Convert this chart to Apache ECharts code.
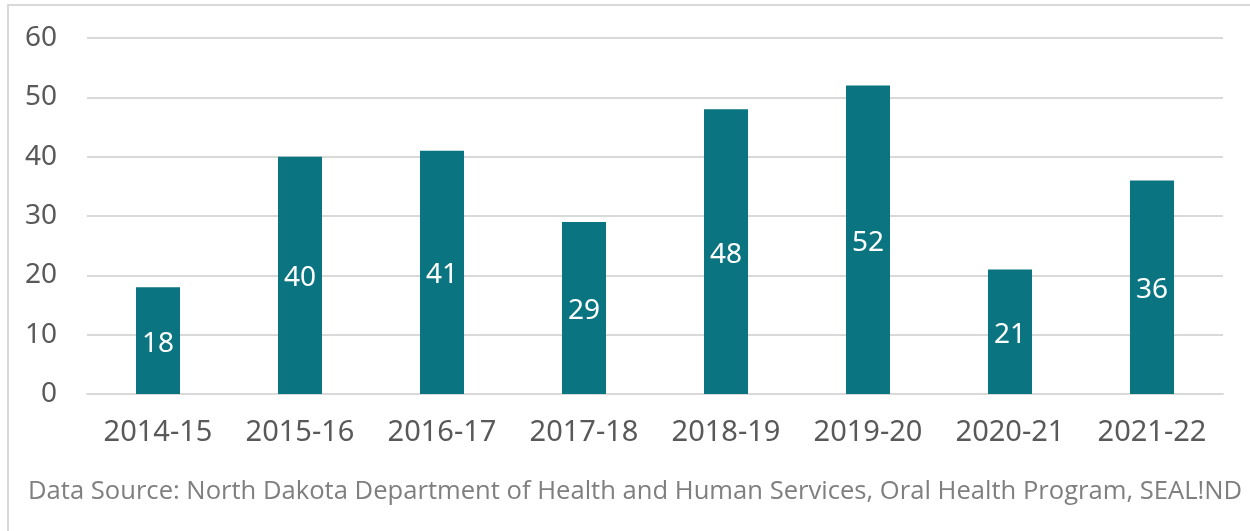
<!DOCTYPE html>
<html>
<head>
<meta charset="utf-8">
<script src="https://cdn.jsdelivr.net/npm/echarts@6/dist/echarts.min.js"></script>
<style>
  html, body { margin: 0; padding: 0; background: #fff; }
  #chart { width: 1250px; height: 531px; }
</style>
</head>
<body>
<div id="chart"></div>
<script>
var years = ['2014-15', '2015-16', '2016-17', '2017-18', '2018-19', '2019-20', '2020-21', '2021-22'];
var nums = [18, 40, 41, 29, 48, 52, 21, 36];
var yTicks = [0, 10, 20, 30, 40, 50, 60];

var myChart = echarts.init(document.getElementById('chart'));
var option = {
    animation: false,
    grid: { left: 87, right: 27, top: 38, bottom: 137 },
    xAxis: {
        type: 'category',
        data: years,
        axisTick: { show: false },
        axisLine: { lineStyle: { color: '#d9d9d9', width: 2 } },
        axisLabel: { color: '#595959', fontSize: 29, fontFamily: 'Noto Sans', margin: 24 }
    },
    yAxis: {
        type: 'value',
        min: yTicks[0],
        max: yTicks[yTicks.length - 1],
        interval: 10,
        axisLine: { show: false },
        axisTick: { show: false },
        splitLine: { lineStyle: { color: '#d9d9d9', width: 2 } },
        axisLabel: { color: '#595959', fontSize: 28, fontFamily: 'Noto Sans', margin: 30 }
    },
    series: [{
        type: 'bar',
        data: nums,
        barWidth: '31%',
        itemStyle: { color: '#0a7480' },
        label: {
            show: true,
            position: 'inside',
            offset: [0, 3],
            color: '#fff',
            fontSize: 28,
            fontFamily: 'Noto Sans'
        }
    }],
    graphic: [
        {
            type: 'rect',
            shape: { x: 8, y: 5, width: 1400, height: 700 },
            style: { fill: 'none', stroke: '#d9d9d9', lineWidth: 2 },
            silent: true
        },
        {
            type: 'text',
            left: 28,
            top: 479,
            style: {
                text: 'Data Source: North Dakota Department of Health and Human Services, Oral Health Program, SEAL!ND',
                fill: '#7f7f7f',
                font: '25.6px "Open Sans"'
            }
        }
    ]
};
myChart.setOption(option);
</script>
</body>
</html>
